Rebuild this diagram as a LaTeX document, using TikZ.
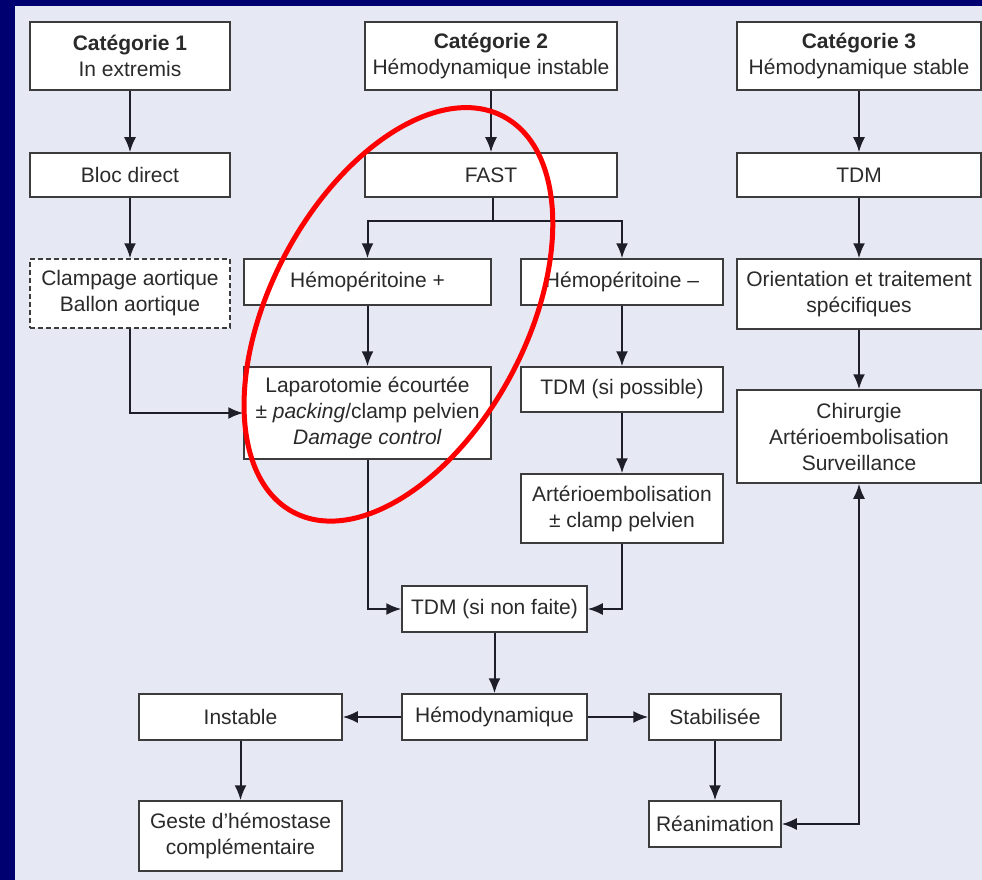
\documentclass[tikz,border=0pt]{standalone}
\usepackage{fontspec}
\setmainfont{Liberation Sans}
\usetikzlibrary{arrows.meta}
\definecolor{navy}{HTML}{000070}
\definecolor{bgc}{HTML}{E6E8F4}
\definecolor{ink}{HTML}{1E1E28}
\definecolor{edge}{HTML}{3C3C3C}
\definecolor{txt}{HTML}{2A2A2A}
\begin{document}
\begin{tikzpicture}[x=1pt,y=-1pt,
  box/.style={draw=edge, line width=1.5pt, fill=white, inner sep=0pt, align=center, text=txt, font=\fontsize{21}{26}\selectfont},
  arr/.style={draw=ink, line width=2pt, -{Latex[length=15pt,width=12pt]}},
  dbl/.style={draw=ink, line width=2pt, {Latex[length=15pt,width=12pt]}-{Latex[length=15pt,width=12pt]}},
  ln/.style={draw=ink, line width=2pt}]
\useasboundingbox (0,0) rectangle (982,880);
\fill[navy] (0,0) rectangle (982,880);
\fill[bgc] (15,6) rectangle (982,880);

% column 1
\node[box, minimum width=200pt, minimum height=68pt] (cat1) at (130,56) {\textbf{Catégorie 1}\\In extremis};
\node[box, minimum width=200pt, minimum height=44pt] (bloc) at (130,175) {Bloc direct};
\node[box, dash pattern=on 5pt off 3pt, minimum width=200pt, minimum height=69pt] (clamp) at (130,293.5) {Clampage aortique\\Ballon aortique};
% column 2
\node[box, minimum width=252pt, minimum height=68pt] (cat2) at (491,56) {\textbf{Catégorie 2}\\Hémodynamique instable};
\node[box, minimum width=252pt, minimum height=44pt] (fast) at (491,175) {FAST};
\node[box, minimum width=247pt, minimum height=46pt] (hplus) at (367.5,282) {Hémopéritoine +};
\node[box, minimum width=202pt, minimum height=46pt] (hminus) at (622,282) {Hémopéritoine –};
\node[box, minimum width=247pt, minimum height=92pt] (lap) at (367.5,413) {Laparotomie écourtée\\± \textit{packing}/clamp pelvien\\\textit{Damage control}};
\node[box, minimum width=202pt, minimum height=45pt] (tdmsp) at (622,389.5) {TDM (si possible)};
\node[box, minimum width=202pt, minimum height=69pt] (art) at (622,508.5) {Artérioembolisation\\± clamp pelvien};
\node[box, minimum width=185pt, minimum height=46pt] (tdmnf) at (494.5,609) {TDM (si non faite)};
\node[box, minimum width=185pt, minimum height=46pt] (hemo) at (494.5,717) {Hémodynamique};
\node[box, minimum width=132pt, minimum height=46pt] (stab) at (715,717) {Stabilisée};
\node[box, minimum width=132pt, minimum height=46pt] (rea) at (715,824) {Réanimation};
\node[box, minimum width=203pt, minimum height=46pt] (inst) at (240.5,717) {Instable};
\node[box, minimum width=203pt, minimum height=70pt] (geste) at (240.5,836) {Geste d’hémostase\\complémentaire};
% column 3
\node[box, minimum width=244pt, minimum height=68pt] (cat3) at (859,56) {\textbf{Catégorie 3}\\Hémodynamique stable};
\node[box, minimum width=244pt, minimum height=44pt] (tdm3) at (859,175) {TDM};
\node[box, minimum width=244pt, minimum height=70pt] (orient) at (859,294) {Orientation et traitement\\spécifiques};
\node[box, minimum width=244pt, minimum height=93pt] (chir) at (859,436.5) {Chirurgie\\Artérioembolisation\\Surveillance};

% connectors
\draw[arr] (cat1) -- (bloc);
\draw[arr] (bloc) -- (clamp);
\draw[arr] (clamp.south) |- (lap.west);
\draw[arr] (cat2) -- (fast);
\coordinate (split) at (493,221);
\draw[ln] (fast.south -| split) -- (split);
\draw[arr] (split) -| (hplus.north);
\draw[arr] (split) -| (hminus.north);
\draw[arr] (hplus) -- (lap);
\draw[arr] (hminus) -- (tdmsp);
\draw[arr] (tdmsp) -- (art);
\draw[arr] (lap.south) |- (tdmnf.west);
\draw[arr] (art.south) |- (tdmnf.east);
\draw[arr] (tdmnf) -- (hemo);
\draw[arr] (hemo) -- (inst);
\draw[arr] (hemo) -- (stab);
\draw[arr] (stab) -- (rea);
\draw[arr] (inst) -- (geste);
\draw[arr] (cat3) -- (tdm3);
\draw[arr] (tdm3) -- (orient);
\draw[arr] (orient) -- (chir);
\draw[dbl] (rea.east) -| (chir.south);

% red highlight
\draw[red, line width=5pt, rotate around={-28:(398,313)}] (399,314) ellipse [x radius=128pt, y radius=224pt];
\end{tikzpicture}
\end{document}
